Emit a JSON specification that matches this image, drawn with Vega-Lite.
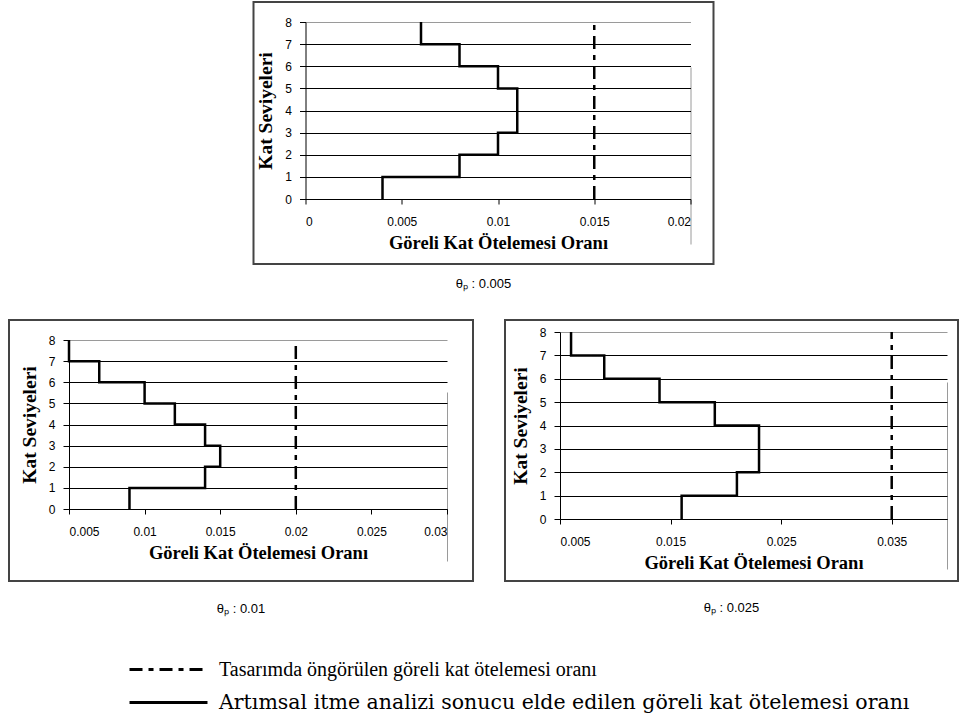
{
  "$schema": "https://vega.github.io/schema/vega-lite/v6.json",
  "padding": {"left": 8, "top": 1, "right": 0, "bottom": 0},
  "center": true,
  "spacing": 27,
  "datasets": {
    "rows": [
      {"p": "a", "k": "A", "s": 0, "x": 0.004, "y": 0},
      {"p": "a", "k": "A", "s": 1, "x": 0.004, "y": 1},
      {"p": "a", "k": "A", "s": 2, "x": 0.008, "y": 1},
      {"p": "a", "k": "A", "s": 3, "x": 0.008, "y": 2},
      {"p": "a", "k": "A", "s": 4, "x": 0.010, "y": 2},
      {"p": "a", "k": "A", "s": 5, "x": 0.010, "y": 3},
      {"p": "a", "k": "A", "s": 6, "x": 0.011, "y": 3},
      {"p": "a", "k": "A", "s": 7, "x": 0.011, "y": 5},
      {"p": "a", "k": "A", "s": 8, "x": 0.010, "y": 5},
      {"p": "a", "k": "A", "s": 9, "x": 0.010, "y": 6},
      {"p": "a", "k": "A", "s": 10, "x": 0.008, "y": 6},
      {"p": "a", "k": "A", "s": 11, "x": 0.008, "y": 7},
      {"p": "a", "k": "A", "s": 12, "x": 0.006, "y": 7},
      {"p": "a", "k": "A", "s": 13, "x": 0.006, "y": 8},
      {"p": "a", "k": "T", "s": 0, "x": 0.015, "y": 0},
      {"p": "a", "k": "T", "s": 1, "x": 0.015, "y": 8},
      {"p": "b", "k": "A", "s": 0, "x": 0.009, "y": 0},
      {"p": "b", "k": "A", "s": 1, "x": 0.009, "y": 1},
      {"p": "b", "k": "A", "s": 2, "x": 0.014, "y": 1},
      {"p": "b", "k": "A", "s": 3, "x": 0.014, "y": 2},
      {"p": "b", "k": "A", "s": 4, "x": 0.015, "y": 2},
      {"p": "b", "k": "A", "s": 5, "x": 0.015, "y": 3},
      {"p": "b", "k": "A", "s": 6, "x": 0.014, "y": 3},
      {"p": "b", "k": "A", "s": 7, "x": 0.014, "y": 4},
      {"p": "b", "k": "A", "s": 8, "x": 0.012, "y": 4},
      {"p": "b", "k": "A", "s": 9, "x": 0.012, "y": 5},
      {"p": "b", "k": "A", "s": 10, "x": 0.010, "y": 5},
      {"p": "b", "k": "A", "s": 11, "x": 0.010, "y": 6},
      {"p": "b", "k": "A", "s": 12, "x": 0.007, "y": 6},
      {"p": "b", "k": "A", "s": 13, "x": 0.007, "y": 7},
      {"p": "b", "k": "A", "s": 14, "x": 0.005, "y": 7},
      {"p": "b", "k": "A", "s": 15, "x": 0.005, "y": 8},
      {"p": "b", "k": "T", "s": 0, "x": 0.02, "y": 0},
      {"p": "b", "k": "T", "s": 1, "x": 0.02, "y": 8},
      {"p": "c", "k": "A", "s": 0, "x": 0.016, "y": 0},
      {"p": "c", "k": "A", "s": 1, "x": 0.016, "y": 1},
      {"p": "c", "k": "A", "s": 2, "x": 0.021, "y": 1},
      {"p": "c", "k": "A", "s": 3, "x": 0.021, "y": 2},
      {"p": "c", "k": "A", "s": 4, "x": 0.023, "y": 2},
      {"p": "c", "k": "A", "s": 5, "x": 0.023, "y": 4},
      {"p": "c", "k": "A", "s": 6, "x": 0.019, "y": 4},
      {"p": "c", "k": "A", "s": 7, "x": 0.019, "y": 5},
      {"p": "c", "k": "A", "s": 8, "x": 0.014, "y": 5},
      {"p": "c", "k": "A", "s": 9, "x": 0.014, "y": 6},
      {"p": "c", "k": "A", "s": 10, "x": 0.009, "y": 6},
      {"p": "c", "k": "A", "s": 11, "x": 0.009, "y": 7},
      {"p": "c", "k": "A", "s": 12, "x": 0.006, "y": 7},
      {"p": "c", "k": "A", "s": 13, "x": 0.006, "y": 8},
      {"p": "c", "k": "T", "s": 0, "x": 0.035, "y": 0},
      {"p": "c", "k": "T", "s": 1, "x": 0.035, "y": 8}
    ]
  },
  "vconcat": [
    {
      "width": 460,
      "height": 262,
      "title": {"text": "θₚ : 0.005"},
      "data": {"name": "rows"},
      "transform": [{"filter": "datum.p == 'a'"}],
      "mark": {"type": "line", "color": "black", "strokeWidth": 2.5},
      "encoding": {
        "x": {"field": "x", "type": "quantitative",
          "scale": {"domain": [0, 0.02], "range": [52, 437], "nice": false, "zero": false},
          "axis": {"values": [0, 0.005, 0.01, 0.015, 0.02], "offset": -65, "title": "Göreli Kat Ötelemesi Oranı",
            "gridColor": {"condition": {"test": "datum.value == 0.02", "value": "#9a9a9a"}, "value": "transparent"}}},
        "y": {"field": "y", "type": "quantitative",
          "scale": {"domain": [0, 8], "range": [197, 20], "nice": false},
          "axis": {"values": [0, 1, 2, 3, 4, 5, 6, 7, 8], "offset": -52, "title": "Kat Seviyeleri",
            "gridColor": {"condition": {"test": "datum.value == 8", "value": "#9a9a9a"}, "value": "black"}}},
        "order": {"field": "s", "type": "quantitative"},
        "strokeDash": {"field": "k", "type": "nominal",
          "scale": {"domain": ["T", "A"], "range": [[13, 6, 5, 6], [1, 0]]},
          "legend": {
            "orient": "none", "legendX": 148, "legendY": 656, "title": null,
            "symbolType": "M-4,0H4", "symbolSize": 380, "symbolStrokeWidth": 3,
            "symbolStrokeColor": "black", "symbolFillColor": "transparent",
            "labelFont": "Liberation Serif", "labelFontSize": 20,
            "labelColor": "black", "labelLimit": 0, "rowPadding": 11, "labelOffset": 39,
            "labelExpr": "datum.label == 'T' ? 'Tasarımda öngörülen göreli kat ötelemesi oranı' : 'Artımsal itme analizi sonucu elde edilen göreli kat ötelemesi oranı'",
            "encode": {
              "labels": {
                "update": {
                  "font": {"signal": "datum.value == 'A' ? 'DejaVu Serif' : 'Liberation Serif'"},
                  "fontSize": {"signal": "datum.value == 'A' ? 20.5 : 20"}
                }
              }
            }
          }}
      }
    },
    {
      "hconcat": [
        {
          "width": 464,
          "height": 261,
          "title": {"text": "θₚ : 0.01", "offset": 22},
          "data": {"name": "rows"},
          "transform": [{"filter": "datum.p == 'b'"}],
          "mark": {"type": "line", "color": "black", "strokeWidth": 2.5},
          "encoding": {
            "x": {"field": "x", "type": "quantitative",
              "scale": {"domain": [0.005, 0.03], "range": [60, 438], "nice": false, "zero": false},
              "axis": {"values": [0.005, 0.01, 0.015, 0.02, 0.025, 0.03], "offset": -72, "title": "Göreli Kat Ötelemesi Oranı",
                "gridColor": {"condition": {"test": "datum.value == 0.03", "value": "#9a9a9a"}, "value": "transparent"}}},
            "y": {"field": "y", "type": "quantitative",
              "scale": {"domain": [0, 8], "range": [189, 20], "nice": false},
              "axis": {"values": [0, 1, 2, 3, 4, 5, 6, 7, 8], "offset": -60, "title": "Kat Seviyeleri",
                "gridColor": {"condition": {"test": "datum.value == 8", "value": "#9a9a9a"}, "value": "black"}}},
            "order": {"field": "s", "type": "quantitative"},
            "strokeDash": {"field": "k", "type": "nominal"}
          }
        },
        {
          "width": 453,
          "height": 261,
          "title": {"text": "θₚ : 0.025", "offset": 21},
          "data": {"name": "rows"},
          "transform": [{"filter": "datum.p == 'c'"}],
          "mark": {"type": "line", "color": "black", "strokeWidth": 2.5},
          "encoding": {
            "x": {"field": "x", "type": "quantitative",
              "scale": {"domain": [0.005, 0.04], "range": [55, 442], "nice": false, "zero": false},
              "axis": {"values": [0.005, 0.015, 0.025, 0.035, 0.04], "offset": -62, "title": "Göreli Kat Ötelemesi Oranı",
                "labelExpr": "datum.value == 0.04 ? '' : datum.label",
                "tickColor": {"condition": {"test": "datum.value == 0.04", "value": "transparent"}, "value": "black"},
                "gridColor": {"condition": {"test": "datum.value == 0.04", "value": "#9a9a9a"}, "value": "transparent"}}},
            "y": {"field": "y", "type": "quantitative",
              "scale": {"domain": [0, 8], "range": [199, 12], "nice": false},
              "axis": {"values": [0, 1, 2, 3, 4, 5, 6, 7, 8], "offset": -55, "title": "Kat Seviyeleri",
                "gridColor": {"condition": {"test": "datum.value == 8", "value": "#9a9a9a"}, "value": "black"}}},
            "order": {"field": "s", "type": "quantitative"},
            "strokeDash": {"field": "k", "type": "nominal"}
          }
        }
      ],
      "spacing": 30
    }
  ],
  "config": {
    "view": {"stroke": "#444444", "strokeWidth": 2},
    "axis": {
      "format": "~g", "grid": true, "gridOpacity": 1, "gridWidth": 1,
      "domainColor": "black", "tickColor": "black", "tickSize": 5,
      "labelFont": "Liberation Sans", "labelFontSize": 12, "labelColor": "black",
      "labelOverlap": false, "titleFont": "Liberation Serif", "titleFontWeight": "bold", "titleColor": "black"
    },
    "axisX": {"labelPadding": 12, "titlePadding": 6, "titleFontSize": 18.5},
    "axisY": {"labelPadding": 8, "titlePadding": 9, "titleFontSize": 19.5, "tickSize": 6},
    "title": {"orient": "bottom", "offset": 14, "font": "Liberation Sans", "fontSize": 13, "fontWeight": "normal", "color": "black", "anchor": "middle"}
  }
}
